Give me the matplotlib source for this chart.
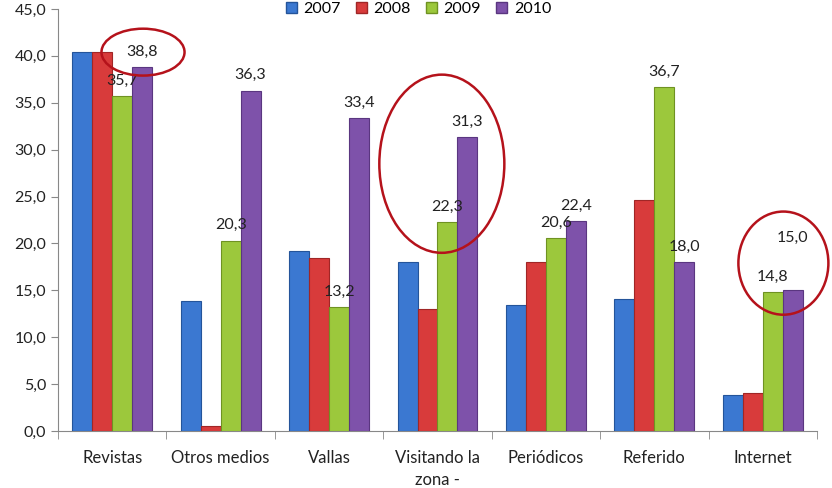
import matplotlib
matplotlib.use("Agg")
import matplotlib.pyplot as plt
from matplotlib.patches import Ellipse, Patch
import numpy as np

categories = ["Revistas", "Otros medios", "Vallas", "Visitando la\nzona -",
              "Periódicos", "Referido", "Internet"]
series_names = ["2007", "2008", "2009", "2010"]
v2007 = [40.4, 13.9, 19.2, 18.0, 13.4, 14.1, 3.8]
v2008 = [40.4, 0.5, 18.5, 13.0, 18.0, 24.6, 4.1]
v2009 = [35.7, 20.3, 13.2, 22.3, 20.6, 36.7, 14.8]
v2010 = [38.8, 36.3, 33.4, 31.3, 22.4, 18.0, 15.0]
yticks = [0, 5, 10, 15, 20, 25, 30, 35, 40, 45]

colors = ["#3b78d1", "#d83b3b", "#9cc83c", "#7e52aa"]
edges = ["#24549a", "#a02626", "#6f9222", "#5a3680"]

plt.rcParams['font.family'] = ['Lato', 'DejaVu Sans']
fig = plt.figure(figsize=(8.32, 4.88), dpi=100)
ax = fig.add_axes([58/832, (488-431)/488, (817-58)/832, 422/488])

x = np.arange(len(categories))
bw = 0.184
all_vals = [v2007, v2008, v2009, v2010]
for i, (vals, c, ec, name) in enumerate(zip(all_vals, colors, edges, series_names)):
    ax.bar(x + (i - 1.5) * bw, vals, width=bw, color=c, edgecolor=ec,
           linewidth=0.8, label=name, zorder=3)

# data labels for 2009 and 2010
for i in (2, 3):
    for j, v in enumerate(all_vals[i]):
        off = 11
        if i == 3 and j == 6:
            off = 38
        ax.annotate(f"{v:.1f}".replace(".", ","), (x[j] + (i - 1.5) * bw, v),
                    xytext=(0, off), textcoords="offset points",
                    ha="center", va="center", fontsize=11.5, color="#222222",
                    zorder=5)

ax.set_xlim(-0.5, len(categories) - 0.5)
ax.set_ylim(0, 45)
ax.set_yticks(yticks)
ax.set_yticklabels([f"{t:.1f}".replace(".", ",") for t in yticks], fontsize=11.5)
ax.set_xticks(x)
ax.set_xticklabels(categories, fontsize=12, color="#222222", linespacing=1.45)
ax.tick_params(axis="x", length=0, pad=14)
ax.tick_params(axis="y", length=5, color="#888888", colors="#222222")
ax.set_xticks(np.arange(-0.5, len(categories)), minor=True)
ax.tick_params(axis="x", which="minor", length=6, color="#888888")
for s in ("top", "right"):
    ax.spines[s].set_visible(False)
for s in ("left", "bottom"):
    ax.spines[s].set_color("#888888")

# red ellipses
for (cx, cy, w, h) in [(0.284, 40.4, 0.766, 5.0),
                       (3.04, 28.5, 1.153, 19.0),
                       (6.19, 17.9, 0.83, 11.0)]:
    ax.add_patch(Ellipse((cx, cy), w, h, fill=False, edgecolor="#b5121b",
                         linewidth=1.8, zorder=6, clip_on=False))

handles = [Patch(facecolor=c, edgecolor=ec) for c, ec in zip(colors, edges)]
fig.legend(handles, series_names, loc="center", bbox_to_anchor=(0.503, 1 - 9/488),
           ncol=4, frameon=False, fontsize=11.5, handlelength=0.7, handleheight=0.7,
           columnspacing=0.95, handletextpad=0.4)

fig.savefig("out.png", dpi=100)
